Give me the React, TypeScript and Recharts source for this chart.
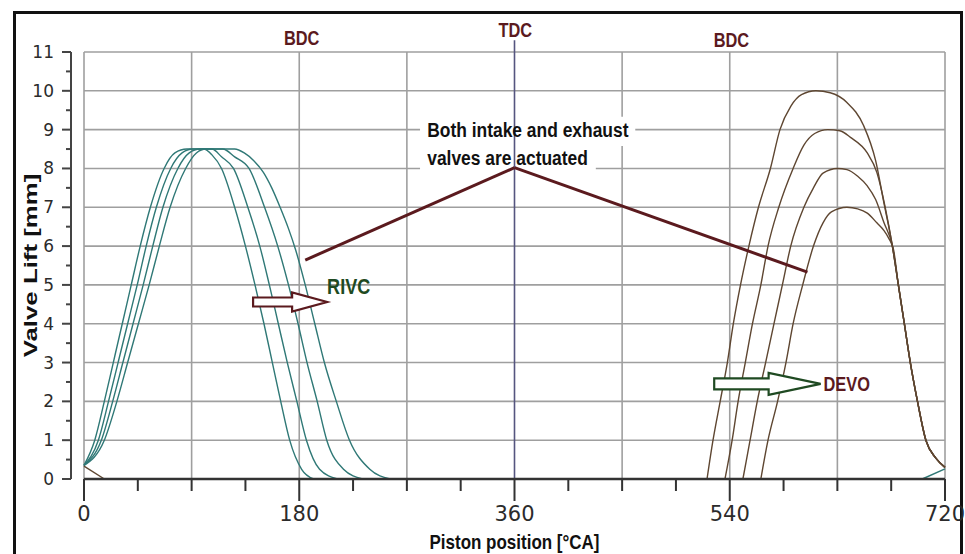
import React from 'react';
import {
  LineChart,
  Line,
  XAxis,
  YAxis,
  CartesianGrid,
  ReferenceLine,
  ReferenceDot,
  ReferenceArea,
  Label,
} from 'recharts';

const W = 965;
const H = 554;

// [crank angle °CA, valve lift mm]
// intake lift, four closing timings (RIVC)
const intake1 = [[0, 0.35], [9, 1], [17, 2], [24.5, 3], [32, 4], [39.5, 5], [47, 6], [55.5, 7], [67, 8], [76, 8.4], [86, 8.5], [100, 8.5], [107, 8.35], [115, 8], [126, 7], [135, 6], [143, 5], [150.5, 4], [157.5, 3], [164.5, 2], [172, 1], [182, 0.25], [192, 0]];
const intake2 = [[0, 0.35], [12, 1], [20.5, 2], [28.5, 3], [36.5, 4], [44.5, 5], [52, 6], [60.5, 7], [72.5, 8], [82, 8.4], [91, 8.5], [107, 8.5], [115, 8.3], [125, 8], [137, 7], [147, 6], [155, 5], [162.5, 4], [170, 3], [178, 2], [186, 1], [197, 0.25], [212, 0]];
const intake3 = [[0, 0.35], [14.5, 1], [24, 2], [32.5, 3], [41, 4], [49.5, 5], [57.5, 6], [66, 7], [78.5, 8], [88, 8.4], [97, 8.5], [116, 8.5], [126, 8.3], [138, 8], [151, 7], [162, 6], [171, 5], [179, 4], [186.5, 3], [195, 2], [203, 1], [217, 0.25], [233, 0]];
const intake4 = [[0, 0.35], [17, 1], [27.5, 2], [36.5, 3], [45.5, 4], [54.5, 5], [63, 6], [72, 7], [85, 8], [94, 8.4], [102, 8.5], [126, 8.5], [134, 8.4], [142, 8.2], [150, 7.9], [157, 7.5], [164, 7], [171, 6.45], [177, 5.9], [185, 5], [193, 4], [201, 3], [211, 2], [222, 1], [239, 0.25], [256, 0]];
const intakeNext = [[701, 0], [720, 0.26]];

// exhaust lift, four opening timings (DEVO)
const exhaust1 = [[521, 0], [526, 1], [532, 2], [538, 3], [543, 4], [549, 5], [556, 6], [564, 7], [574, 8], [582, 9], [591, 9.6], [600, 9.9], [612, 10], [624, 9.95], [638, 9.7], [652, 9.1], [662, 8.2], [669, 7.1], [676, 6], [681, 5], [686, 4], [691, 3], [697, 2], [704, 1], [712, 0.55], [720, 0.3]];
const exhaust2 = [[536, 0], [542, 1], [547, 2], [553, 3], [559, 4], [566, 5], [572, 6], [581, 7], [593, 8], [602, 8.6], [611, 8.9], [622, 9], [632, 8.97], [641, 8.8], [655, 8.4], [663, 7.9], [670, 7], [676, 6], [681, 5], [686, 4], [691, 3], [697, 2], [704, 1], [712, 0.55], [720, 0.3]];
const exhaust3 = [[551, 0], [557, 1], [563, 2], [570, 3], [577, 4], [584, 5], [591, 6], [602, 7], [610, 7.5], [618, 7.88], [630, 8], [638, 7.97], [647, 7.8], [655, 7.55], [662, 7.2], [669, 6.6], [676, 6], [681, 5], [686, 4], [691, 3], [697, 2], [704, 1], [712, 0.55], [720, 0.3]];
const exhaust4 = [[566, 0], [572, 1], [580, 2], [587, 3], [593, 4], [601, 5], [610, 6], [618, 6.6], [625, 6.88], [638, 7], [647, 6.96], [655, 6.85], [663, 6.6], [669, 6.4], [673, 6.2], [677, 5.9], [681, 5], [686, 4], [691, 3], [697, 2], [704, 1], [712, 0.55], [720, 0.3]];
const exhaustPrev = [[0, 0.33], [17, 0]];

const xTicks = [0, 45, 90, 135, 180, 225, 270, 315, 360, 405, 450, 495, 540, 585, 630, 675, 720];
const xLabels = [0, 180, 360, 540, 720];
const yTicks = [0, 0.5, 1, 1.5, 2, 2.5, 3, 3.5, 4, 4.5, 5, 5.5, 6, 6.5, 7, 7.5, 8, 8.5, 9, 9.5, 10, 10.5, 11];
const gridX = [0, 90, 180, 270, 450, 540, 630, 720];
const gridY = [0, 1, 2, 3, 4, 5, 6, 7, 8, 9, 10, 11];

const toPts = (arr: number[][]) => arr.map(([x, y]) => ({ x, y }));

const TEAL = '#2f7876';
const BROWN = '#5e4631';
const MAROON = '#5b1a1e';
const GREEN = '#1f4a22';
const FONT = "'Liberation Sans', Arial, sans-serif";

// bold text squeezed horizontally, like the condensed labels of the original
const NarrowText = ({ x, y, size, color, anchor = 'start', sx = 0.82, children }: any) => (
  <text
    transform={`translate(${x},${y}) scale(${sx},1)`}
    x={0}
    y={0}
    fontSize={size}
    fontWeight="bold"
    fill={color}
    textAnchor={anchor}
    fontFamily={FONT}
  >
    {children}
  </text>
);

const XTick = ({ x, y, payload }: any) => {
  const major = xLabels.includes(payload.value);
  return (
    <g>
      <line x1={x} x2={x} y1={y} y2={y + (major ? 22 : 12)} stroke="#333" strokeWidth={2} />
      {major && (
        <text x={x} y={y + 42} textAnchor="middle" fontSize={21} fill="#2b2b2b" fontFamily="'DejaVu Sans', sans-serif">
          {payload.value}
        </text>
      )}
    </g>
  );
};

const YTick = ({ x, y, payload }: any) => {
  const major = Number.isInteger(payload.value);
  return (
    <g>
      <line x1={x - (major ? 9 : 5)} x2={x} y1={y} y2={y} stroke="#444" strokeWidth={2} />
      {major && (
        <text x={x - 17} y={y + 6} textAnchor="end" fontSize={17} fill="#2b2b2b" fontFamily="'DejaVu Sans', sans-serif">
          {payload.value}
        </text>
      )}
    </g>
  );
};

const XTitle = ({ viewBox }: any) => (
  <NarrowText x={viewBox.x + viewBox.width / 2} y={viewBox.y + 70} size={20} color="#111" anchor="middle" sx={0.85}>
    Piston position [°CA]
  </NarrowText>
);

const YTitle = ({ viewBox }: any) => {
  const cx = viewBox.x + 29;
  const cy = viewBox.y + viewBox.height / 2;
  return (
    <text
      transform={`translate(${cx},${cy}) rotate(-90) scale(1.36,1)`}
      x={0}
      y={0}
      dy={7}
      textAnchor="middle"
      fontSize={19}
      fontWeight="bold"
      fill="#111"
      fontFamily={FONT}
    >
      Valve Lift [mm]
    </text>
  );
};

const arrowShape = (color: string, body: number, head: number, headLen: number) => (p: any) => {
  const { x1, y1, x2 } = p;
  const xh = x2 - headLen;
  const pts = [
    [x1, y1 - body], [xh, y1 - body], [xh, y1 - head], [x2, y1],
    [xh, y1 + head], [xh, y1 + body], [x1, y1 + body],
  ].map((q) => q.join(',')).join(' ');
  return <polygon points={pts} fill="#fff" stroke={color} strokeWidth={2.2} />;
};

const textDot = (label: string, size: number, color: string, anchor = 'start', sx = 0.82) => (p: any) => (
  <NarrowText x={p.cx} y={p.cy} size={size} color={color} anchor={anchor} sx={sx}>
    {label}
  </NarrowText>
);

const series = [
  { key: 'i1', data: intake1, color: TEAL },
  { key: 'i2', data: intake2, color: TEAL },
  { key: 'i3', data: intake3, color: TEAL },
  { key: 'i4', data: intake4, color: TEAL },
  { key: 'in', data: intakeNext, color: TEAL },
  { key: 'e1', data: exhaust1, color: BROWN },
  { key: 'e2', data: exhaust2, color: BROWN },
  { key: 'e3', data: exhaust3, color: BROWN },
  { key: 'e4', data: exhaust4, color: BROWN },
  { key: 'ep', data: exhaustPrev, color: BROWN },
];

// two invisible points so the stand-alone y axis gets its 0..11 scale
const axisRange = [{ x: 0, y: 0 }, { x: 1, y: 11 }];

export default function App() {
  return (
    <div style={{ position: 'absolute', left: 0, top: 0, width: W, height: H, overflow: 'hidden', background: '#fff' }}>
      <div
        style={{
          position: 'absolute',
          left: 13,
          top: 11,
          width: 950,
          height: 620,
          border: '3px solid #111',
          boxSizing: 'border-box',
        }}
      />
      <LineChart
        width={W}
        height={H}
        margin={{ top: 52, right: 20, bottom: 15, left: 84 }}
        style={{ position: 'absolute', left: 0, top: 0 }}
      >
        <CartesianGrid stroke="#9f9f9f" strokeWidth={1.6} verticalValues={gridX} horizontalValues={gridY} />
        <XAxis
          type="number"
          dataKey="x"
          domain={[0, 720]}
          ticks={xTicks}
          interval={0}
          height={60}
          tickLine={false}
          tickSize={0}
          tickMargin={0}
          tick={<XTick />}
          axisLine={{ stroke: '#333', strokeWidth: 2.5 }}
          allowDuplicatedCategory={false}
        >
          <Label content={XTitle} />
        </XAxis>
        <YAxis hide type="number" domain={[0, 11]} ticks={gridY} />

        <ReferenceArea x1={281} x2={461} y1={8.58} y2={9.33} fill="#fff" fillOpacity={1} stroke="none" />
        <ReferenceArea x1={281} x2={428} y1={7.93} y2={8.58} fill="#fff" fillOpacity={1} stroke="none" />

        <ReferenceLine
          segment={[{ x: 360, y: 0 }, { x: 360, y: 11.3 }]}
          stroke="#55557f"
          strokeWidth={1.6}
          ifOverflow="visible"
        />

        {series.map((s) => (
          <Line
            key={s.key}
            data={toPts(s.data)}
            dataKey="y"
            type="monotone"
            stroke={s.color}
            strokeWidth={1.4}
            dot={false}
            activeDot={false}
            isAnimationActive={false}
          />
        ))}

        <ReferenceLine segment={[{ x: 360, y: 8.02 }, { x: 185, y: 5.64 }]} stroke={MAROON} strokeWidth={3} />
        <ReferenceLine segment={[{ x: 360, y: 8.02 }, { x: 605, y: 5.33 }]} stroke={MAROON} strokeWidth={3} />

        <ReferenceLine segment={[{ x: 141.4, y: 4.56 }, { x: 203.3, y: 4.56 }]} shape={arrowShape(MAROON, 4.5, 9.5, 35)} />
        <ReferenceLine segment={[{ x: 527, y: 2.45 }, { x: 616, y: 2.45 }]} shape={arrowShape(GREEN, 5.5, 11, 52)} />

        <ReferenceDot x={182} y={11.19} ifOverflow="visible" shape={textDot('BDC', 20, MAROON, 'middle')} />
        <ReferenceDot x={360.7} y={11.39} ifOverflow="visible" shape={textDot('TDC', 20, MAROON, 'middle')} />
        <ReferenceDot x={541.4} y={11.13} ifOverflow="visible" shape={textDot('BDC', 20, MAROON, 'middle')} />
        <ReferenceDot x={287} y={8.81} shape={textDot('Both intake and exhaust', 21, '#111', 'start', 0.83)} />
        <ReferenceDot x={287} y={8.09} shape={textDot('valves are actuated', 21, '#111', 'start', 0.83)} />
        <ReferenceDot x={203.3} y={4.77} shape={textDot('RIVC', 22, GREEN)} />
        <ReferenceDot x={618.4} y={2.27} shape={textDot('DEVO', 20, MAROON)} />
      </LineChart>

      {/* y axis sits a little left of the plot, as in the original */}
      <LineChart
        width={90}
        height={H}
        data={axisRange}
        margin={{ top: 52, right: 10, bottom: 75, left: 0 }}
        style={{ position: 'absolute', left: 1, top: 0 }}
      >
        <XAxis hide type="number" dataKey="x" domain={[0, 1]} />
        <YAxis
          width={70}
          type="number"
          dataKey="y"
          domain={[0, 11]}
          ticks={yTicks}
          interval={0}
          tickLine={false}
          tickSize={0}
          tickMargin={0}
          tick={<YTick />}
          axisLine={{ stroke: '#444', strokeWidth: 2 }}
        >
          <Label content={YTitle} />
        </YAxis>
        <Line dataKey="y" stroke="none" dot={false} activeDot={false} isAnimationActive={false} />
      </LineChart>
    </div>
  );
}
